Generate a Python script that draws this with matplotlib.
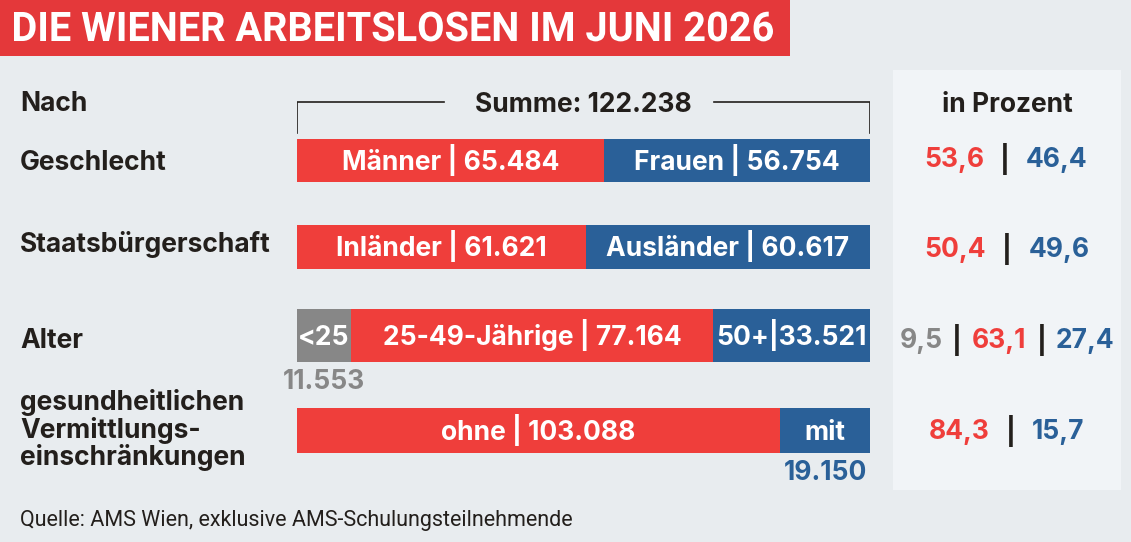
import matplotlib.pyplot as plt
from matplotlib.patches import Rectangle, PathPatch
from matplotlib.textpath import TextPath
from matplotlib.font_manager import FontProperties
from matplotlib.transforms import Affine2D

# data
rows = ['Geschlecht', 'Staatsbürgerschaft', 'Alter', 'gesundheitlichen\nVermittlungs-\neinschränkungen']
seg_names = [['Männer', 'Frauen'],
             ['Inländer', 'Ausländer'],
             ['<25', '25-49-Jährige', '50+'],
             ['ohne', 'mit']]
seg_values = [[65484, 56754],
              [61621, 60617],
              [11553, 77164, 33521],
              [103088, 19150]]
percent = [['53,6', '46,4'],
           ['50,4', '49,6'],
           ['9,5', '63,1', '27,4'],
           ['84,3', '15,7']]
total = 122238

RED = '#ef3e3b'
BLUE = '#2a6098'
GREY = '#878787'
DARK = '#231f1c'
BG = '#e8ecef'
PANEL = '#f1f4f7'
seg_colors = [[RED, BLUE], [RED, BLUE], [GREY, RED, BLUE], [RED, BLUE]]

W, H = 1131, 542
FONT = ['Inter', 'DejaVu Sans']
plt.rcParams['font.family'] = FONT
FS = 19

fig = plt.figure(figsize=(W / 100, H / 100), dpi=100, facecolor=BG)

# layout axes in pixel coords
bg = fig.add_axes([0, 0, 1, 1])
bg.set_xlim(0, W)
bg.set_ylim(H, 0)
bg.axis('off')

bg.add_patch(Rectangle((0, 0), 790, 56, color='#e4383a', lw=0))

# condensed title: squeeze a text path horizontally
title = 'DIE WIENER ARBEITSLOSEN IM JUNI 2026'
tp = TextPath((0, 0), title, size=1, prop=FontProperties(family='Roboto', weight='bold'))
ext = tp.get_extents()
sy = 29 / 0.711
sx = 759 / ext.width
tr = Affine2D().translate(-ext.x0, 0).scale(sx, -sy).translate(14, 41) + bg.transData
bg.add_patch(PathPatch(tp, transform=tr, color='white', lw=0))

bg.add_patch(Rectangle((893, 70), 228, 420, color=PANEL, lw=0))

lab_kw = dict(fontsize=FS, fontweight='bold', color=DARK, va='baseline', ha='left')
bg.text(20, 111, 'Nach', **lab_kw)
label_base = [170, 252, 348, 410]
for name, y in zip(rows, label_base):
    for k, line in enumerate(name.split('\n')):
        bg.text(20, y + 27.5 * k, line, **lab_kw)

bg.text(1007, 112, 'in Prozent', fontsize=FS, fontweight='bold', color=DARK,
        ha='center', va='baseline')

# bars
x0, x1 = 297, 870
ax = fig.add_axes([x0 / W, 0, (x1 - x0) / W, 1])
ax.set_xlim(0, total)
ax.set_ylim(H, 0)
ax.axis('off')

bar_y = [160.5, 247, 335.5, 430.5]
bar_h = [43, 44, 53, 45]
under_base = [None, None, 389, 480]
txt_kw = dict(fontsize=FS, fontweight='bold', color='white', ha='center', va='baseline')

for i in range(len(rows)):
    left = 0
    for j, v in enumerate(seg_values[i]):
        ax.barh(bar_y[i], v, left=left, height=bar_h[i], color=seg_colors[i][j], lw=0)
        mid = left + v / 2
        name = seg_names[i][j]
        if name in ('<25', 'mit'):
            label = name
        elif name == '50+':
            label = f'{name}|{v:,}'.replace(',', '.')
        else:
            label = f'{name} | {v:,}'.replace(',', '.')
        ax.text(mid, bar_y[i] + 9.5, label, **txt_kw)
        if name in ('<25', 'mit'):
            ax.text(mid, under_base[i], f'{v:,}'.replace(',', '.'),
                    fontsize=FS, fontweight='bold', color=seg_colors[i][j],
                    ha='center', va='baseline')
        left += v

# bracket
ax.plot([0, 0, total * 0.256], [133, 102, 102], color=DARK, lw=1.2)
ax.plot([total * 0.727, total, total], [102, 102, 133], color=DARK, lw=1.2)
ax.text(total / 2, 112, f'Summe: {total:,}'.replace(',', '.'), fontsize=FS,
        fontweight='bold', color=DARK, ha='center', va='baseline')

# percentages
pct_base = [167, 257, 348, 439]
pct_x = [[954, 1057], [955, 1059], [921, 999, 1085], [959, 1058]]
sep_x = [[1005], [1007], [957, 1042], [1011]]
for i in range(len(rows)):
    for v, xx, c in zip(percent[i], pct_x[i], seg_colors[i]):
        bg.text(xx, pct_base[i], v, fontsize=FS, fontweight='bold', color=c,
                ha='center', va='baseline')
    for bx in sep_x[i]:
        bg.text(bx, pct_base[i] + 2, '|', fontsize=FS, fontweight='bold', color=DARK,
                ha='center', va='baseline')

bg.text(20, 526, 'Quelle: AMS Wien, exklusive AMS-Schulungsteilnehmende',
        fontsize=15.5, family=['Roboto', 'DejaVu Sans'], color=DARK,
        ha='left', va='baseline')

fig.savefig('out.png', dpi=100, facecolor=BG)
